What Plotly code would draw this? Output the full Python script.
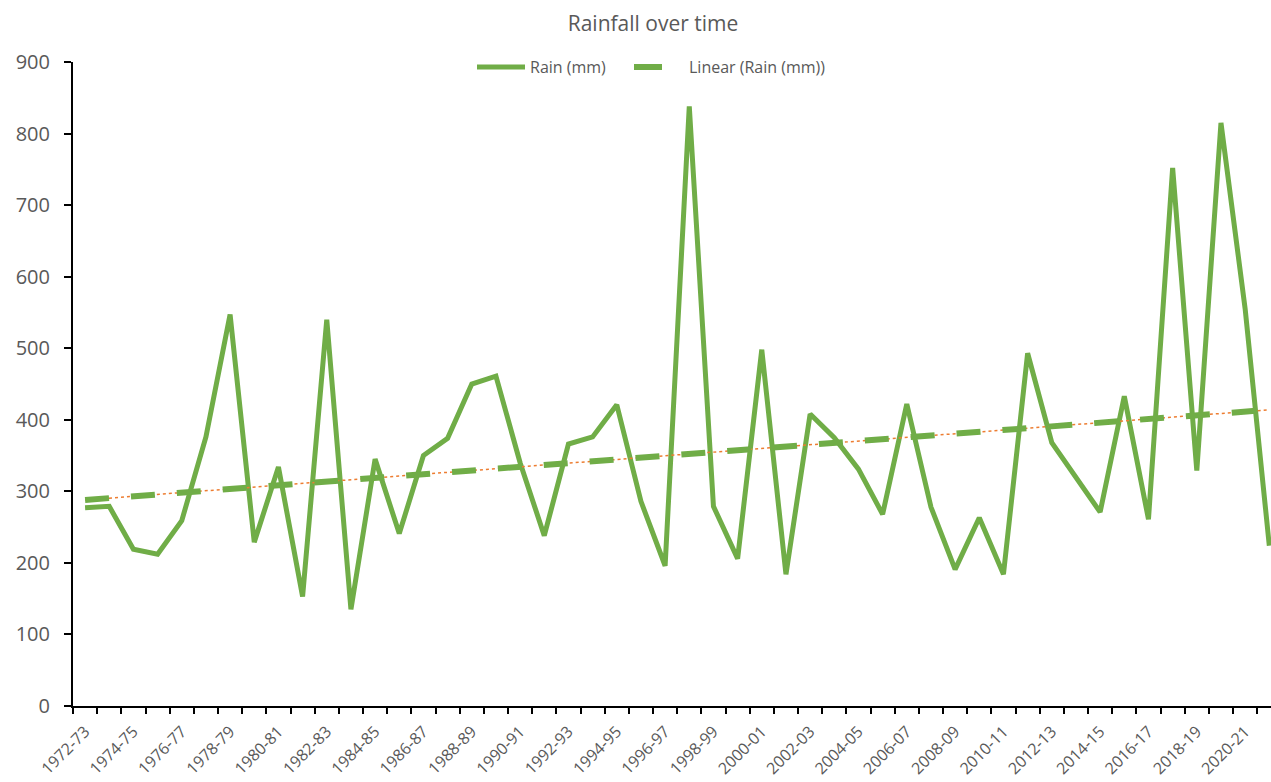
import numpy as np
import plotly.graph_objects as go

seasons = [f"{y}-{str(y + 1)[-2:]}" for y in range(1972, 2022)]
rain_mm = [277, 279, 219, 212, 259, 376, 547, 229, 334, 153,
           540, 135, 345, 241, 350, 374, 450, 461, 340, 238,
           366, 376, 421, 286, 196, 838, 279, 206, 498, 184,
           408, 375, 331, 268, 422, 278, 191, 263, 184, 493,
           368, 318, 271, 433, 261, 752, 329, 815, 555, 224]
y_ticks = list(range(0, 1000, 100))
series_names = ["Rain (mm)", "Linear (Rain (mm))"]

idx = np.arange(len(seasons))
slope, intercept = np.polyfit(idx, rain_mm, 1)
trend = intercept + slope * idx

GREEN = "#70AD47"
ORANGE = "#ED7D31"
GREY = "#595959"

W, H = 1271, 782
L, R, T, B = 73, 0, 62, 76
PW, PH = W - L - R, H - T - B


def px_x(px):
    return (px - L) / PW


def px_y(py):
    return (H - B - py) / PH


fig = go.Figure()
fig.add_trace(go.Scatter(x=idx, y=rain_mm, mode="lines", name=series_names[0],
                         line=dict(color=GREEN, width=5), showlegend=False))
fig.add_trace(go.Scatter(x=idx, y=trend, mode="lines", showlegend=False,
                         line=dict(color=ORANGE, width=1.5, dash="dot"),
                         hoverinfo="skip"))
fig.add_trace(go.Scatter(x=idx, y=trend, mode="lines", name=series_names[1],
                         line=dict(color=GREEN, width=6, dash="24px,22px"),
                         showlegend=False))

# legend drawn by hand (line samples + real text)
legend_y = px_y(67)
shapes = [
    dict(type="line", xref="paper", yref="paper", x0=px_x(477), x1=px_x(525),
         y0=legend_y, y1=legend_y, line=dict(color=GREEN, width=5)),
    dict(type="line", xref="paper", yref="paper", x0=px_x(634), x1=px_x(662),
         y0=legend_y, y1=legend_y, line=dict(color=GREEN, width=6)),
]
annotations = [
    dict(text=series_names[0], xref="paper", yref="paper", x=px_x(528), y=legend_y,
         xanchor="left", yanchor="middle", showarrow=False,
         font=dict(size=16, color=GREY)),
    dict(text=series_names[1], xref="paper", yref="paper", x=px_x(687), y=legend_y,
         xanchor="left", yanchor="middle", showarrow=False,
         font=dict(size=16, color=GREY)),
]

fig.update_layout(
    width=W, height=H,
    paper_bgcolor="white", plot_bgcolor="white",
    margin=dict(l=L, r=R, t=T, b=B, autoexpand=False),
    font=dict(family="Open Sans", color=GREY),
    title=dict(text="Rainfall over time", x=653 / W, xanchor="center",
               y=1 - 24 / H, yanchor="middle",
               font=dict(size=21, color=GREY)),
    showlegend=False,
    shapes=shapes,
    annotations=annotations,
)
fig.update_xaxes(
    range=[-0.5, 49.07], showgrid=False, zeroline=False,
    showline=True, linecolor="black", linewidth=2,
    tickmode="array", tickvals=list(idx[::2]), ticktext=seasons[::2],
    tickangle=-45, ticks="outside", ticklen=6, tickcolor="rgba(0,0,0,0)",
    tickfont=dict(size=16, color=GREY), ticklabelstandoff=2,
    minor=dict(tickmode="array", tickvals=[i - 0.5 for i in range(len(seasons) + 1)],
               ticks="outside", ticklen=6, tickcolor="black", tickwidth=2,
               showgrid=False),
)
fig.update_yaxes(
    range=[0, 900], showgrid=False, zeroline=False,
    showline=True, linecolor="black", linewidth=2,
    tickmode="array", tickvals=y_ticks,
    ticks="outside", ticklen=7, tickcolor="black", tickwidth=2,
    tickfont=dict(size=20, color=GREY), ticklabelstandoff=10,
)

fig.write_html("out.html")
